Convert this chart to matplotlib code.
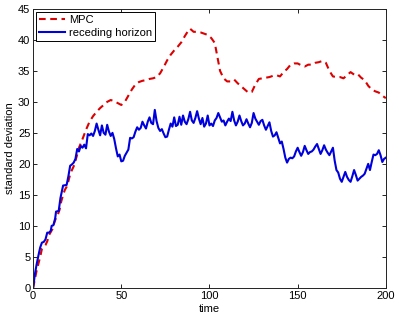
import numpy as np
import matplotlib
matplotlib.use('Agg')
import matplotlib.pyplot as plt

# receding horizon (blue, solid)
t_rh = [0, 1, 2, 3, 4, 5, 6, 7, 8, 9, 10, 10.5, 11.5, 12.5, 13, 14.5, 15.5, 17, 19,
        20, 21, 22, 23, 24, 25, 26, 27, 28, 29, 30, 31, 32, 33, 34, 35, 36, 37, 38,
        39, 40, 41, 42, 43, 44, 45, 46, 47, 48, 49, 50, 51, 52, 53, 54, 55, 56, 57,
        58, 59, 60, 61, 62, 63, 64, 65, 66, 67, 68, 69, 70, 71, 72, 73, 74, 75, 76,
        77, 78, 79, 80, 81, 82, 83, 84, 85, 86, 87, 88, 89, 90, 91, 92, 93, 94, 95,
        96, 97, 98, 99, 100, 101, 102, 103, 104, 105, 106, 107, 108, 109, 110, 111,
        112, 113, 114, 115, 116, 117, 118, 119, 120, 121, 122, 123, 124, 125, 126,
        127, 128, 129, 130, 131, 132, 133, 134, 135, 136, 137, 138, 139, 140, 141,
        142, 143, 144, 145, 146, 147, 148, 149, 150, 151, 152, 153, 154, 155, 156,
        157, 158, 159, 160, 161, 162, 163, 164, 165, 166, 167, 168, 169, 170, 171,
        172, 173, 174, 175, 176, 177, 178, 179, 180, 181, 182, 183, 184, 185, 186,
        187, 188, 189, 190, 191, 192, 193, 194, 195, 196, 197, 198, 199, 200]
sd_rh = [0, 2.2, 3.8, 5.2, 6.5, 7.3, 7.4, 7.8, 8.9, 8.9, 9.2, 10.0, 10.1, 11.2, 12.3,
         12.4, 14.5, 16.5, 16.6, 18.0, 19.7, 19.9, 20.2, 20.8, 22.4, 22.0, 22.9, 22.6,
         23.1, 22.5, 24.8, 24.6, 24.9, 24.5, 25.3, 26.5, 25.5, 24.6, 26.2, 25.0, 24.7,
         26.3, 25.2, 24.5, 25.0, 24.0, 22.5, 21.2, 21.5, 20.4, 20.5, 21.3, 21.8, 22.3,
         24.2, 24.1, 24.3, 25.2, 25.9, 25.5, 25.8, 26.8, 26.2, 25.7, 26.8, 27.5, 26.6,
         26.4, 28.7, 26.9, 25.8, 25.3, 25.6, 24.9, 24.3, 24.4, 25.5, 26.5, 26.0, 27.5,
         26.1, 26.3, 27.6, 26.3, 27.8, 26.8, 26.4, 27.2, 28.4, 27.0, 26.6, 27.4, 28.5,
         27.3, 26.4, 27.4, 26.0, 26.5, 27.8, 26.2, 26.5, 26.1, 27.0, 27.4, 28.2, 27.5,
         26.8, 27.0, 26.2, 26.8, 27.3, 26.9, 28.4, 27.0, 26.2, 26.8, 27.8, 26.9, 26.2,
         26.5, 27.2, 26.5, 25.9, 26.6, 28.2, 27.3, 26.8, 26.3, 26.9, 27.1, 26.2, 25.5,
         26.1, 26.7, 25.3, 24.4, 24.6, 25.1, 24.2, 23.3, 23.6, 22.4, 21.0, 20.2, 20.8,
         21.0, 20.9, 21.2, 22.0, 22.6, 21.9, 21.3, 21.9, 22.9, 22.2, 21.6, 21.9, 22.0,
         22.3, 22.8, 23.2, 22.4, 21.6, 22.2, 23.0, 22.3, 21.8, 21.4, 22.0, 22.6, 20.5,
         19.0, 18.6, 17.6, 17.1, 17.9, 18.7, 17.9, 17.4, 17.1, 18.0, 19.0, 18.2, 17.3,
         17.6, 17.9, 18.1, 18.4, 19.2, 20.0, 19.0, 20.3, 21.5, 21.4, 21.6, 22.2, 21.4,
         20.3, 20.8, 21.0]

# MPC (red, dashed)
t_mpc = [0, 2, 4, 5, 7, 8, 9, 10, 11, 12, 13, 14, 15, 16, 17, 18, 19, 20, 21, 22, 23,
         24, 25, 26, 28, 30, 32, 34, 36, 38, 40, 42, 44, 46, 48, 50, 52, 54, 56, 58,
         60, 62, 64, 66, 68, 70, 72, 74, 76, 78, 80, 82, 84, 86, 88, 89, 91, 93, 95,
         97, 99, 101, 103, 104, 105, 106, 108, 110, 112, 114, 116, 118, 120, 122,
         124, 126, 128, 130, 132, 134, 136, 138, 140, 142, 144, 146, 148, 150, 152,
         154, 156, 158, 160, 162, 164, 166, 168, 170, 172, 174, 176, 178, 180, 182,
         184, 186, 188, 190, 192, 194, 196, 198, 200]
sd_mpc = [0, 2.8, 5.0, 6.3, 6.9, 7.5, 8.5, 9.0, 9.5, 10.5, 11.3, 11.8, 12.6, 14.0,
          15.0, 15.8, 16.3, 17.2, 18.3, 19.0, 19.6, 20.5, 21.5, 22.6, 24.0, 25.5, 26.8,
          27.7, 28.4, 29.0, 29.5, 30.0, 30.3, 30.1, 29.8, 29.5, 30.0, 31.0, 32.0, 32.8,
          33.2, 33.4, 33.5, 33.7, 33.8, 34.0, 34.6, 35.6, 36.7, 37.6, 38.3, 38.9, 39.6,
          40.6, 41.5, 41.8, 41.3, 41.3, 41.2, 41.0, 40.8, 40.3, 39.5, 38.0, 36.5, 35.0,
          33.8, 33.3, 33.3, 33.6, 33.0, 32.5, 32.0, 31.5, 31.6, 32.8, 33.7, 33.8, 33.9,
          34.0, 34.2, 34.3, 34.1, 34.8, 35.3, 36.0, 36.2, 36.2, 35.9, 35.7, 36.0, 36.0,
          36.3, 36.4, 36.6, 36.3, 35.0, 34.1, 34.0, 34.0, 33.8, 34.3, 34.8, 34.4, 34.5,
          33.9, 33.5, 32.6, 32.0, 31.7, 31.5, 31.0, 30.6]

x_ticks = [0, 50, 100, 150, 200]
y_ticks = [0, 5, 10, 15, 20, 25, 30, 35, 40, 45]


def main():
    plt.rcParams['font.family'] = ['Liberation Sans', 'DejaVu Sans']
    fig = plt.figure(figsize=(3.99, 3.17), dpi=100)
    ax = fig.add_axes([0.083, 0.092, 0.884, 0.880])

    ax.plot(t_mpc, sd_mpc, color='#dd0000', lw=1.5, dashes=(3.2, 2.2), label='MPC')
    ax.plot(t_rh, sd_rh, color='#0000dd', lw=1.5, label='receding horizon')

    ax.set_xlim(0, 200)
    ax.set_ylim(0, 45)
    ax.set_xticks(x_ticks)
    ax.set_yticks(y_ticks)
    ax.tick_params(direction='in', length=3, width=0.6, labelsize=8,
                   top=True, right=True, pad=2)
    for sp in ax.spines.values():
        sp.set_linewidth(0.7)
        sp.set_color('#222222')

    ax.set_xlabel('time', fontsize=8, labelpad=2.5)
    ax.set_ylabel('standard deviation', fontsize=8, labelpad=2)

    leg = ax.legend(loc='upper left', fontsize=8, fancybox=False, framealpha=1,
                    edgecolor='black', borderaxespad=0.3, borderpad=0.25,
                    handlelength=2.3, handletextpad=0.4, labelspacing=0.25)
    leg.get_frame().set_linewidth(0.7)

    fig.savefig('out.png', dpi=100)


if __name__ == '__main__':
    main()
